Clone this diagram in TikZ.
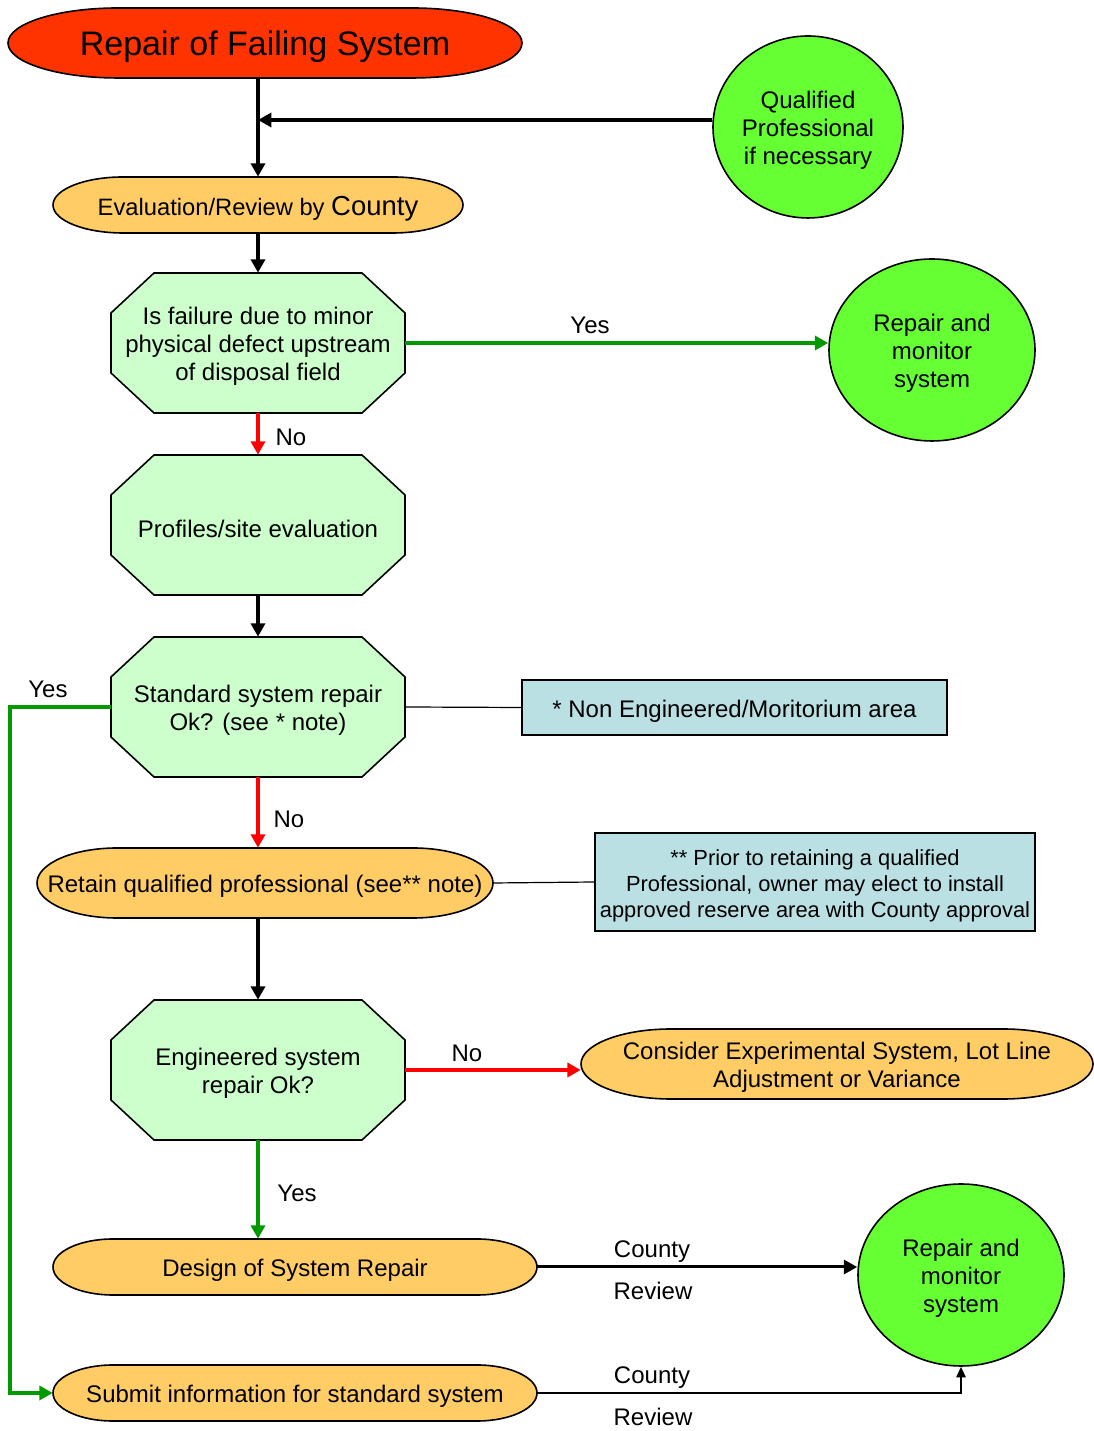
\documentclass[tikz,border=0pt]{standalone}
\usepackage{fontspec}
\setmainfont{Liberation Sans}
\usetikzlibrary{arrows.meta,shapes.geometric}

\definecolor{startred}{HTML}{FF3300}
\definecolor{boxorange}{HTML}{FFCC66}
\definecolor{octgreen}{HTML}{CCFFCC}
\definecolor{endgreen}{HTML}{66FF33}
\definecolor{noteblue}{HTML}{BBE0E3}
\definecolor{yesgreen}{HTML}{009900}
\definecolor{nored}{HTML}{FF0000}

\newcommand{\bigfont}{\fontsize{25.5}{30}\selectfont}
\newcommand{\boxfont}{\fontsize{18}{21}\selectfont}
\newcommand{\notefont}{\fontsize{16.4}{19.5}\selectfont}

% octagon: name, x, y, text
\newcommand{\octnode}[4]{%
  \filldraw[octshape] (#2-147,#3-30) -- (#2-147,#3+30) -- (#2-104,#3+70)
    -- (#2+104,#3+70) -- (#2+147,#3+30) -- (#2+147,#3-30)
    -- (#2+104,#3-70) -- (#2-104,#3-70) -- cycle;
  \node[anchorbox, minimum width=220.5pt, minimum height=105pt] (#1) at (#2,#3) {};
  \node[txt] (#1txt) at (#2,#3-3.5) {#4};}

% capsule: name, x, y, width, height, end radius, fill, text
\newcommand{\capnode}[8]{%
  \filldraw[capshape, fill=#7] (#2-#4/2+#6,#3+#5/2) -- (#2+#4/2-#6,#3+#5/2)
    arc[start angle=90, end angle=-90, x radius=#6, y radius=#5/2]
    -- (#2-#4/2+#6,#3-#5/2)
    arc[start angle=270, end angle=90, x radius=#6, y radius=#5/2] -- cycle;
  \node[anchorbox, minimum width=#4*0.75pt, minimum height=#5*0.75pt] (#1) at (#2,#3) {};
  \node[txt] (#1txt) at (#2,#3-3.5) {#8};}

% round end: name, x, y, width, height, text
\newcommand{\roundnode}[6]{%
  \node[endshape, minimum width=#4*0.75pt, minimum height=#5*0.75pt] (#1) at (#2,#3) {};
  \node[txt] (#1txt) at (#2,#3-3.5) {#6};}

\begin{document}
\begin{tikzpicture}[x=0.75pt, y=0.75pt,
    octshape/.style={draw=black, fill=octgreen, line width=1.2pt},
    capshape/.style={draw=black, line width=1.2pt},
    endshape/.style={ellipse, draw=black, fill=endgreen, line width=1.2pt, inner sep=0pt},
    anchorbox/.style={inner sep=0pt},
    txt/.style={inner sep=0pt, align=center, font=\boxfont},
    note/.style={draw=black, fill=noteblue, line width=1.2pt, inner sep=0pt},
    lbl/.style={font=\boxfont, inner sep=0pt},
    flow/.style={line width=3pt, -{Triangle[length=10pt,width=10.5pt]}},
    link/.style={line width=0.9pt}]
    \useasboundingbox (0,0) rectangle (1094,1431);

    % Start and first review
    \capnode{start}{265}{1388}{514}{70}{110}{startred}{\bigfont Repair of Failing System}
    \capnode{eval}{258}{1226}{410}{56}{70}{boxorange}{\fontsize{17.8}{21}\selectfont Evaluation/Review by {\fontsize{20.6}{24}\selectfont County}}
    \roundnode{qual}{808}{1304}{190}{182}{Qualified\\Professional\\if necessary}

    % Decisions
    \octnode{oct1}{258}{1088}{Is failure due to minor\\physical defect upstream\\of disposal field}
    \roundnode{rep1}{932}{1081}{206}{182}{Repair and\\monitor\\system}
    \octnode{oct2}{258}{906}{Profiles/site evaluation}
    \octnode{oct3}{258}{724}{Standard system repair\\Ok? (see * note)}
    \node[note, minimum width=318.75pt, minimum height=41.25pt] (note1) at (734.5,723.5) {};
    \node[txt] (note1txt) at (734.5,720) {* Non Engineered/Moritorium area};

    \capnode{retain}{265}{548}{456}{70}{80}{boxorange}{Retain qualified professional (see** note)}
    \node[note, minimum width=330pt, minimum height=73.5pt] (note2) at (815,549) {};
    \node[txt, font=\notefont] (note2txt) at (815,545.5) {** Prior to retaining a qualified\\Professional, owner may elect to install\\approved reserve area with County approval};

    \octnode{oct4}{258}{361}{Engineered system\\repair Ok?}
    \capnode{consider}{837}{367}{512}{70}{90}{boxorange}{Consider Experimental System, Lot Line\\Adjustment or Variance}

    % Final steps
    \capnode{design}{295}{164}{484}{56}{60}{boxorange}{Design of System Repair}
    \capnode{submit}{295}{38}{484}{56}{60}{boxorange}{Submit information for standard system}
    \roundnode{rep2}{961}{156}{206}{182}{Repair and\\monitor\\system}

    % Labels
    \node[lbl] (yes1) at (590,1106) {Yes};
    \node[lbl] (no1) at (291,994) {No};
    \node[lbl] (yes2) at (48,742) {Yes};
    \node[lbl] (no2) at (289,612) {No};
    \node[lbl] (no3) at (467,378) {No};
    \node[lbl] (yes3) at (297,238) {Yes};
    \node[lbl] (cty1) at (652,179) {County};
    \node[lbl] (rev1) at (653,140) {Review};
    \node[lbl] (cty2) at (652,53) {County};
    \node[lbl] (rev2) at (653,14) {Review};

    % Connectors
    \draw[flow] (eval.north |- start.south) -- (eval.north);
    \draw[flow] ([yshift=5.25pt]qual.west) -- ([yshift=5.25pt]qual.west -| eval.north);
    \draw[flow] (eval.south) -- (oct1.north);
    \draw[flow, yesgreen] (oct1.east) -- (oct1.east -| rep1.west);
    \draw[flow, nored] (oct1.south) -- (oct2.north);
    \draw[flow] (oct2.south) -- (oct3.north);
    \draw[flow, yesgreen] (oct3.west) -- ++(-101,0) |- (submit.west);
    \draw[link] (oct3.east) -- (note1.west);
    \draw[flow, nored] (oct3.south) -- (oct3.south |- retain.north);
    \draw[link] (retain.east) -- (note2.west);
    \draw[flow] (oct4.north |- retain.south) -- (oct4.north);
    \draw[flow, nored] (oct4.east) -- (oct4.east -| consider.west);
    \draw[flow, yesgreen] (oct4.south) -- (oct4.south |- design.north);
    \draw[flow, line width=2.25pt] (design.east) -- (design.east -| rep2.west);
    \draw[line width=1.5pt, -{Triangle[length=8pt,width=7pt]}] (submit.east) -| (rep2.south);
\end{tikzpicture}
\end{document}
